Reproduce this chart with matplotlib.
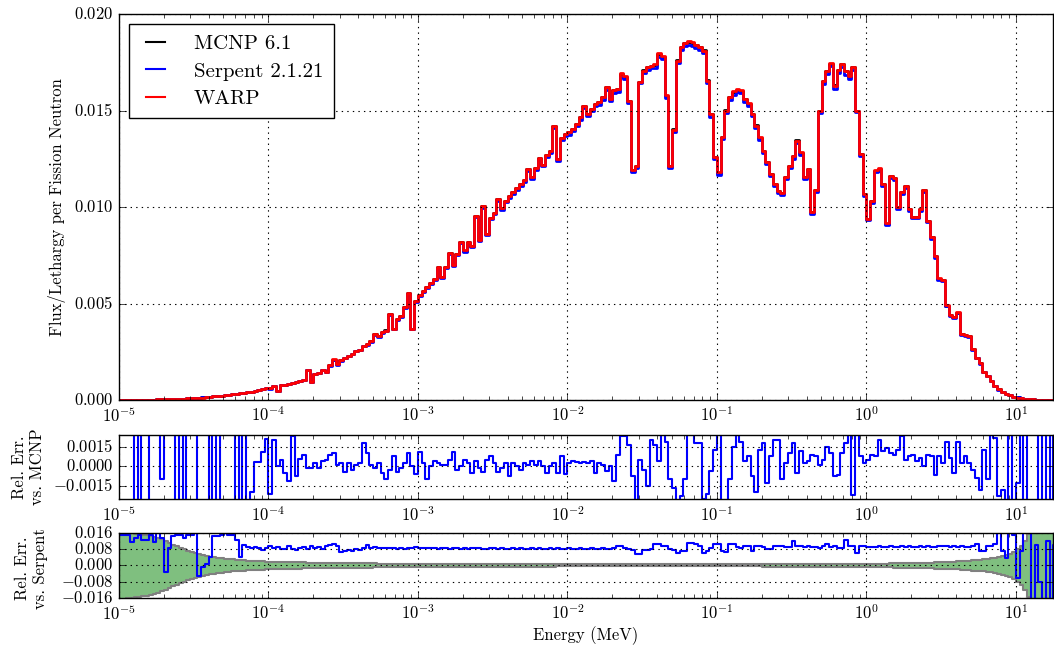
import matplotlib
matplotlib.use('Agg')
import matplotlib.pyplot as plt
import numpy as np

# energy bin edges (MeV), 40 bins per decade
edges = np.logspace(-5, 1.3, 253)

# WARP flux per lethargy per fission neutron (x 1e-3)
flux_warp = [
    0.00, 0.00, 0.00, 0.01, 0.01, 0.01, 0.01, 0.02, 0.02, 0.02,
    0.03, 0.03, 0.04, 0.04, 0.05, 0.05, 0.06, 0.07, 0.08, 0.09,
    0.10, 0.12, 0.13, 0.15, 0.17, 0.19, 0.21, 0.22, 0.26, 0.27,
    0.30, 0.33, 0.35, 0.38, 0.40, 0.44, 0.47, 0.50, 0.55, 0.62,
    0.60, 0.72, 0.45, 0.78, 0.80, 0.85, 0.88, 0.95, 0.98, 1.05,
    1.55, 0.95, 1.35, 1.40, 1.55, 1.45, 1.80, 2.10, 1.85, 2.05,
    2.20, 2.30, 2.40, 2.55, 2.60, 2.80, 2.90, 3.05, 3.40, 3.30,
    3.50, 3.60, 4.45, 3.70, 4.20, 4.35, 4.80, 5.55, 3.70, 5.15,
    5.44, 5.65, 5.85, 6.08, 6.29, 6.90, 6.35, 6.91, 7.60, 7.00,
    7.56, 8.20, 7.75, 8.20, 8.00, 9.55, 8.30, 10.05, 8.60, 9.45,
    9.70, 10.40, 9.95, 10.33, 10.55, 10.76, 10.97, 11.19, 11.40, 11.95,
    11.55, 12.02, 12.55, 12.20, 12.68, 12.88, 14.20, 12.50, 13.60, 13.80,
    13.87, 14.04, 14.30, 14.65, 15.25, 14.82, 15.08, 15.34, 15.43, 15.69,
    16.20, 15.60, 16.06, 16.11, 16.92, 16.80, 15.50, 11.90, 12.10, 16.50,
    17.07, 17.24, 17.32, 17.40, 17.96, 17.84, 15.80, 12.10, 14.00, 17.58,
    18.27, 18.48, 18.58, 18.53, 18.41, 18.31, 18.10, 16.55, 14.80, 12.60,
    11.80, 13.61, 14.99, 15.68, 15.99, 16.11, 16.06, 15.60, 15.37, 14.82,
    14.22, 13.61, 12.92, 12.32, 11.71, 11.20, 10.85, 10.71, 11.54, 12.14,
    12.66, 13.44, 12.83, 11.54, 11.97, 9.75, 10.90, 15.00, 16.55, 17.07,
    17.45, 16.29, 17.10, 17.41, 17.07, 16.80, 17.24, 15.00, 12.75, 10.67,
    9.40, 10.30, 11.90, 12.00, 11.20, 9.15, 11.60, 11.50, 10.00, 10.80,
    11.10, 9.90, 9.50, 9.50, 9.90, 10.90, 9.30, 8.43, 7.45, 6.30,
    6.20, 4.90, 4.40, 4.28, 4.54, 3.42, 3.37, 3.30, 2.64, 2.20,
    1.90, 1.45, 1.25, 1.00, 0.75, 0.55, 0.42, 0.33, 0.25, 0.18,
    0.13, 0.09, 0.06, 0.04, 0.03, 0.02, 0.015, 0.010, 0.007, 0.005,
    0.003, 0.002,
]

# relative error WARP vs MCNP (x 1e-4)
err_mcnp = [
    40, 40, 40, 40, -40, 40, -40, -40, 40, 40,
    40, -9.6, 40, 40, 40, -40, 40, -40, 40, 40,
    40, -40, -40, -40, 40, -40, 40, -40, -40, -40,
    -40, 40, -40, 40, -40, -20, 3, 3, 11, 21,
    -21, 20, 0, 5, -5, -11, 23, -7, 6, 9,
    -1, -1, 2.5, -1, 4, 5, 9, 10, 1, 2.5,
    -4, 2.5, -2.5, 1, 2.5, 18, 10, 1, -1, 2.5,
    -5, -10, -2.5, 7.6, -4, -1, 2.5, 10, 0, -6,
    11, 2.5, -10, 0, 4, 2.5, 1, 1, 5, 11,
    -2.5, 0, 5, 2.5, -5, 4, -1, -4, 5, 7.6,
    2.5, -4, -1, 2.5, -7.6, 2.5, 0, -2.5, 2.5, 1,
    4, 1, 4, 0, -5, 0, 2.5, -5, 7.6, -6,
    2.5, 4, 3, 2.5, 3, 2.5, 3.8, -5, 2.5, 1.3,
    -3.8, 0, -11, 8.9, 23, 23, 16.5, -7.6, -30, 5,
    -2.5, -15, 20, 16.5, 3.8, 30, 19, -10, -16.5, -30,
    -23, -10, 30, 30, 17.8, 17.8, -25, -21, -3.8, 12.7,
    30, -30, -30, -10, 15.2, 30, 19, 3.8, 7.6, -7.6,
    -20, 12.7, 17.8, -12.7, 7.6, 20.3, 20, -10, 2.5, 10,
    17.8, -5, 11.4, 2.5, 3.8, 8.9, 7.6, 1.3, 5, 15.2,
    10, -7.6, -6.4, 10, 17.8, 30, -22, 30, 7.6, 2.5,
    5, 8.9, 7.6, 20.3, 11.4, 14, 10, 8.9, 12.7, 22.9,
    5, 7.6, 8.9, 3.8, 6.4, 0, 8.9, 7.6, -6.4, 7.6,
    2.5, 19, 6.4, -5, 19, 2.5, 7.6, 2.5, -2.5, -8.9,
    -17.8, 12.7, -10, 30, 21.6, -22.9, -17.8, -30, 30, -30,
    -12.7, 30, -30, 30, 30, 30, -30, 30, -30, 30,
    -30, 30,
]

# relative error WARP vs Serpent (x 1e-3)
err_serpent = [
    15.2, 15.2, 15.2, 11.8, 13.5, 15.2, 12.6, 12.6, 15.2, 11.8,
    17, 13.5, -3.4, 8.4, 14.3, 15.2, 15.2, 13.5, 15.2, 15.2,
    17, -5.1, -0.84, 0.84, 4.2, 14.3, 14.3, 15.2, 17, 15.2,
    15.2, 12.6, 4.2, 10.1, 9.3, 8.4, 9.3, 8.4, 7.6, 8.4,
    9.6, 8.8, 9.1, 8.0, 7.9, 9.6, 8.2, 7.4, 8.4, 9.1,
    7.9, 9.6, 8.4, 9.1, 7.9, 9.6, 10.1, 10.4, 9.6, 6.7,
    7.1, 7.4, 7.1, 7.9, 7.4, 8.4, 10.1, 8.4, 9.1, 8.4,
    8.8, 8.4, 8.4, 8.8, 8.2, 8.4, 7.9, 8.4, 8.6, 9.1,
    8.4, 8.6, 8.4, 8.8, 8.4, 8.2, 8.4, 8.6, 8.0, 8.4,
    8.6, 8.2, 8.4, 8.0, 8.4, 8.6, 8.4, 8.0, 8.2, 8.4,
    8.6, 8.2, 8.4, 8.0, 8.2, 8.4, 8.2, 8.6, 8.0, 8.2,
    8.4, 8.2, 8.4, 8.0, 8.2, 8.4, 8.2, 8.6, 8.2, 8.0,
    8.4, 8.2, 8.0, 8.4, 8.2, 8.0, 8.4, 8.2, 8.0, 8.4,
    8.2, 7.9, 8.4, 9.6, 9.6, 8.6, 7.9, 7.6, 5.7, 5.7,
    7.4, 7.4, 8.0, 10.4, 10.4, 9.6, 9.6, 7.9, 7.6, 6.2,
    7.1, 7.1, 11.3, 11.3, 10.8, 9.6, 6.2, 7.0, 8.8, 10.4,
    10.4, 7.0, 6.7, 10.4, 10.4, 9.2, 8.8, 9.6, 9.6, 7.1,
    9.6, 9.6, 9.3, 7.9, 7.9, 9.6, 9.6, 9.6, 9.1, 9.1,
    12.1, 9.6, 9.6, 9.3, 9.6, 9.1, 9.3, 8.8, 9.6, 10.4,
    9.3, 9.6, 8.4, 8.8, 12.5, 9.6, 9.6, 6.2, 9.6, 9.6,
    9.3, 9.3, 9.1, 9.4, 9.1, 9.3, 9.6, 9.3, 9.0, 9.4,
    9.3, 9.6, 9.1, 9.3, 9.4, 9.1, 9.6, 9.3, 9.1, 9.6,
    9.4, 9.6, 9.1, 9.6, 9.3, 9.6, 9.3, 9.1, 9.6, 10.4,
    7.1, 7.3, 9.6, 9.6, 10.4, 17, 7.1, 3.7, 17, 15,
    -6.4, 7.1, 17, 17, -17, 10, -8, -17, 12, -17,
    10, -17,
]

# Serpent relative statistical uncertainty (x 1e-3)
sigma_serpent = [
    16.5, 16.3, 16.1, 15.9, 15.7, 15.5, 15.2, 14.9, 14.5, 14.0,
    13.4, 12.8, 12.0, 11.2, 10.3, 9.5, 8.7, 8.0, 7.2, 6.6,
    6.0, 5.5, 5.1, 4.7, 4.3, 4.0, 3.75, 3.5, 3.3, 3.1,
    2.95, 2.8, 2.65, 2.5, 2.4, 2.3, 2.2, 2.1, 2.0, 1.9,
    1.85, 1.80, 1.75, 1.70, 1.66, 1.62, 1.58, 1.54, 1.50, 1.47,
    1.44, 1.41, 1.38, 1.35, 1.32, 1.29, 1.26, 1.23, 1.20, 1.17,
    1.15, 1.13, 1.11, 1.09, 1.07, 1.05, 1.03, 1.01, 0.99, 0.97,
    0.95, 0.93, 0.91, 0.89, 0.87, 0.86, 0.85, 0.84, 0.83, 0.82,
    0.81, 0.80, 0.79, 0.78, 0.77, 0.76, 0.75, 0.74, 0.73, 0.72,
    0.71, 0.70, 0.69, 0.68, 0.67, 0.66, 0.65, 0.64, 0.63, 0.62,
    0.61, 0.60, 0.59, 0.58, 0.57, 0.56, 0.56, 0.55, 0.55, 0.54,
    0.54, 0.53, 0.53, 0.52, 0.52, 0.51, 0.51, 0.50, 0.50, 0.50,
    0.50, 0.50, 0.50, 0.50, 0.50, 0.50, 0.50, 0.50, 0.50, 0.50,
    0.50, 0.50, 0.50, 0.50, 0.50, 0.50, 0.50, 0.50, 0.50, 0.50,
    0.50, 0.50, 0.50, 0.50, 0.50, 0.50, 0.50, 0.50, 0.50, 0.50,
    0.50, 0.50, 0.50, 0.50, 0.50, 0.50, 0.50, 0.50, 0.50, 0.50,
    0.50, 0.50, 0.50, 0.50, 0.50, 0.50, 0.50, 0.50, 0.50, 0.50,
    0.50, 0.50, 0.51, 0.52, 0.53, 0.54, 0.55, 0.56, 0.57, 0.58,
    0.59, 0.60, 0.61, 0.62, 0.63, 0.64, 0.65, 0.66, 0.67, 0.68,
    0.69, 0.70, 0.71, 0.72, 0.74, 0.76, 0.78, 0.80, 0.82, 0.84,
    0.86, 0.88, 0.90, 0.92, 0.94, 0.96, 0.98, 1.00, 1.03, 1.06,
    1.10, 1.14, 1.18, 1.22, 1.26, 1.30, 1.35, 1.42, 1.50, 1.58,
    1.65, 1.72, 1.80, 1.88, 1.96, 2.05, 2.20, 2.35, 2.50, 2.60,
    2.75, 2.95, 3.20, 3.45, 3.70, 4.05, 4.45, 5.00, 5.80, 6.70,
    7.9, 9.6, 12.1, 15.5, 19, 23, 28, 33, 40, 48,
    56, 65,
]

labels = ['MCNP 6.1', 'Serpent 2.1.21', 'WARP']
decades = [1e-5, 1e-4, 1e-3, 1e-2, 1e-1, 1e0, 1e1]

plt.style.use('classic')
plt.rcParams.update({
    'figure.facecolor': 'white',
    'savefig.facecolor': 'white',
    'font.family': 'cmr10',
    'mathtext.fontset': 'cm',
    'axes.formatter.use_mathtext': True,
    'font.size': 12,
    'xtick.major.size': 5,
    'xtick.minor.size': 3,
    'ytick.major.size': 5,
    'grid.linewidth': 0.8,
})

warp = np.array(flux_warp) * 1e-3
e_mcnp = np.array(err_mcnp) * 1e-4
e_serp = np.array(err_serpent) * 1e-3
sig = np.array(sigma_serpent) * 1e-3
mcnp = warp / (1.0 + e_mcnp)
serpent = warp / (1.0 + e_serp)


def post(v):
    return np.append(v, v[-1])


fig = plt.figure(figsize=(10.54, 6.48), dpi=100)
ax1 = fig.add_axes([0.1129, 0.3827, 0.8861, 0.5957])
ax2 = fig.add_axes([0.1129, 0.2299, 0.8861, 0.0988])
ax3 = fig.add_axes([0.1129, 0.0772, 0.8861, 0.1003])

ax1.step(edges, post(mcnp), where='post', color='k', lw=2.0, label=labels[0])
ax1.step(edges, post(serpent), where='post', color='b', lw=2.0, label=labels[1])
ax1.step(edges, post(warp), where='post', color='r', lw=2.0, label=labels[2])
ax1.set_ylim(0, 0.02)
ax1.set_yticks([0.0, 0.005, 0.010, 0.015, 0.020])
ax1.set_ylabel('Flux/Lethargy per Fission Neutron')
leg = ax1.legend(loc='upper left', fontsize=15, handlelength=1.5, handletextpad=1.1,
                 borderpad=0.5, labelspacing=0.42, fancybox=False)
for line in leg.get_lines():
    line.set_linewidth(1.5)

ax2.step(edges, post(e_mcnp), where='post', color='b', lw=1.5)
ax2.set_ylim(-0.0025, 0.0024)
ax2.set_yticks([-0.0015, 0.0, 0.0015])
ax2.set_ylabel('Rel. Err.\nvs. MCNP')

ax3.fill_between(edges, -post(sig), post(sig), step='post',
                 facecolor=(0, 0.5, 0, 0.5), edgecolor='0.5', lw=1.5)
ax3.step(edges, post(e_serp), where='post', color='b', lw=1.5)
ax3.set_ylim(-0.016, 0.016)
ax3.set_yticks([-0.016, -0.008, 0.0, 0.008, 0.016])
ax3.set_ylabel('Rel. Err.\nvs. Serpent')
ax3.set_xlabel('Energy (MeV)', labelpad=2)

for ax in (ax1, ax2, ax3):
    ax.set_xscale('log')
    ax.set_xticks(decades)
    ax.set_xlim(1e-5, 17.7)
    ax.grid(True, color='k', linestyle=':')
    ax.tick_params(axis='both', which='both', direction='in')

ax1.yaxis.set_label_coords(-0.057, 0.5)
ax2.yaxis.set_label_coords(-0.079, 0.5)
ax3.yaxis.set_label_coords(-0.076, 0.45)

fig.savefig('out.png', dpi=100)
